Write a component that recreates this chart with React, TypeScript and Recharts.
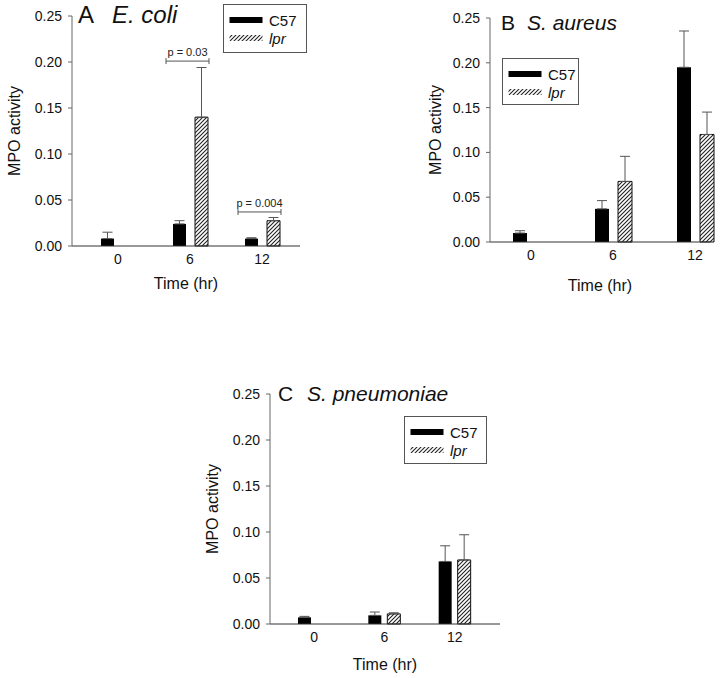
import { Bar, BarChart, ErrorBar, Legend, XAxis, YAxis } from "recharts";

const font = '"Liberation Sans", Arial, Helvetica, sans-serif';

const times = ["0", "6", "12"];
const yTicks = [0, 0.05, 0.1, 0.15, 0.2, 0.25];

// A  E. coli
const ecoliC57 = [0.008, 0.024, 0.008];
const ecoliC57Err = [0.007, 0.0035, 0.001];
const ecoliLpr = [null, 0.14, 0.0275];
const ecoliLprErr = [null, 0.054, 0.0035];
const ecoliSigLevel = [null, 0.201, 0.037];
const ecoliSigText = [null, "p = 0.03", "p = 0.004"];

// B  S. aureus
const aureusC57 = [0.01, 0.037, 0.195];
const aureusC57Err = [0.0026, 0.0092, 0.0405];
const aureusLpr = [null, 0.0676, 0.12];
const aureusLprErr = [null, 0.028, 0.025];

// C  S. pneumoniae
const pneumoC57 = [0.0072, 0.0094, 0.068];
const pneumoC57Err = [0.0011, 0.0036, 0.017];
const pneumoLpr = [null, 0.011, 0.0696];
const pneumoLprErr = [null, 0.0012, 0.0274];

function buildRows(c57: number[], c57Err: number[], lpr: (number | null)[], lprErr: (number | null)[]) {
  return times.map((t, i) => ({
    t,
    c57: c57[i],
    c57Err: [0, c57Err[i]],
    lpr: lpr[i],
    lprErr: lprErr[i] == null ? null : [0, lprErr[i]],
  }));
}

function Hatch({ id }: { id: string }) {
  return (
    <pattern id={id} patternUnits="userSpaceOnUse" width={4} height={4}>
      <rect width={4} height={4} fill="#fff" />
      <path d="M-1,1 l2,-2 M0,4 l4,-4 M3,5 l2,-2" stroke="#222" strokeWidth={1.1} />
    </pattern>
  );
}

function LegendBox({ id, w, h }: { id: string; w: number; h: number }) {
  return (
    <svg width={w} height={h} style={{ display: "block" }}>
      <defs>
        <Hatch id={id} />
      </defs>
      <rect x={0.5} y={0.5} width={w - 1} height={h - 1} fill="#fff" stroke="#555" />
      <rect x={6.5} y={13} width={33} height={6} fill="#000" />
      <rect x={6.5} y={31} width={33} height={6} fill={`url(#${id})`} />
      <text x={46} y={21.5} fontSize={15} fontFamily={font} fill="#111">
        C57
      </text>
      <text x={46} y={39.5} fontSize={15} fontFamily={font} fontStyle="italic" fill="#111">
        lpr
      </text>
    </svg>
  );
}

function sigLabel(lpr: (number | null)[], levels: (number | null)[], texts: (string | null)[], barSize: number, barGap: number) {
  return (props: any) => {
    const i = lpr.indexOf(props.value);
    if (i < 0) return null;
    const level = levels[i];
    const v = lpr[i];
    if (level == null || v == null) return null;
    const vb = props.viewBox || props;
    const base = vb.y + vb.height;
    const yb = base - (level / v) * vb.height;
    const x1 = vb.x - barGap - barSize - 7;
    const x2 = vb.x + vb.width + 1;
    return (
      <g key={`sig-${i}`} stroke="#555" strokeWidth={1}>
        <line x1={x1} x2={x2} y1={yb} y2={yb} />
        <line x1={x1} x2={x1} y1={yb - 3} y2={yb + 3} />
        <line x1={x2} x2={x2} y1={yb - 3} y2={yb + 3} />
        <text x={(x1 + x2) / 2} y={yb - 5} textAnchor="middle" fontSize={11} fontFamily={font} fill="#222" stroke="none">
          {texts[i]}
        </text>
      </g>
    );
  };
}

type PanelProps = {
  id: string;
  left: number;
  top: number;
  width: number;
  height: number;
  margin: { top: number; right: number; bottom: number; left: number };
  yAxisWidth: number;
  xAxisHeight: number;
  padding: { left: number; right: number };
  barSize: number;
  barGap: number;
  rows: any[];
  letter: string;
  name: string;
  titleX: number;
  titleY: number;
  titleSize: number;
  nameGap: number;
  legend: { x: number; y: number; w: number; h: number };
  yLabelOffset: number;
  xLabelOffset: number;
  sig?: any;
};

function Panel(p: PanelProps) {
  return (
    <div style={{ position: "absolute", left: p.left, top: p.top }}>
      <BarChart width={p.width} height={p.height} data={p.rows} margin={p.margin} barSize={p.barSize} barGap={p.barGap}>
        <defs>
          <Hatch id={p.id} />
        </defs>
        <XAxis
          dataKey="t"
          type="category"
          height={p.xAxisHeight}
          padding={p.padding}
          axisLine={{ stroke: "#333" }}
          tickLine={false}
          tickSize={4}
          tickMargin={4}
          tick={{ fontSize: 14, fill: "#111", fontFamily: font }}
          label={{ value: "Time (hr)", position: "insideBottom", offset: p.xLabelOffset, fontSize: 16, fill: "#111", fontFamily: font }}
        />
        <YAxis
          type="number"
          domain={[0, 0.25]}
          ticks={yTicks}
          interval={0}
          tickFormatter={(v: number) => v.toFixed(2)}
          width={p.yAxisWidth}
          axisLine={{ stroke: "#666" }}
          tickLine={{ stroke: "#666" }}
          tickSize={4}
          tickMargin={6}
          tick={{ fontSize: 14, fill: "#111", fontFamily: font }}
          label={{
            value: "MPO activity",
            angle: -90,
            position: "insideLeft",
            offset: p.yLabelOffset,
            fontSize: 16,
            fill: "#111",
            fontFamily: font,
            style: { textAnchor: "middle" },
          }}
        />
        <Legend
          layout="vertical"
          align="center"
          verticalAlign="middle"
          wrapperStyle={{ left: p.legend.x, top: p.legend.y, width: p.legend.w, height: p.legend.h }}
          content={() => <LegendBox id={`${p.id}-lg`} w={p.legend.w} h={p.legend.h} />}
        />
        <Bar dataKey="c57" fill="#000" isAnimationActive={false}>
          <ErrorBar dataKey="c57Err" direction="y" width={5} stroke="#555" strokeWidth={1} />
        </Bar>
        <Bar dataKey="lpr" fill={`url(#${p.id})`} stroke="#111" strokeWidth={1} isAnimationActive={false} label={p.sig || false}>
          <ErrorBar dataKey="lprErr" direction="y" width={5} stroke="#555" strokeWidth={1} />
        </Bar>
        <text x={p.titleX} y={p.titleY} fontSize={p.titleSize} fontFamily={font} fill="#111">
          {p.letter}
        </text>
        <text x={p.titleX + p.nameGap} y={p.titleY} fontSize={p.titleSize} fontFamily={font} fontStyle="italic" fill="#111">
          {p.name}
        </text>
      </BarChart>
    </div>
  );
}

export default function App() {
  return (
    <div style={{ position: "absolute", left: 0, top: 0, width: 722, height: 678, background: "#fff" }}>
      <Panel
        id="hatchA"
        left={0}
        top={0}
        width={310}
        height={300}
        margin={{ top: 16, right: 10, bottom: 0, left: 0 }}
        yAxisWidth={72}
        xAxisHeight={54}
        padding={{ left: 10, right: 2 }}
        barSize={13}
        barGap={9}
        rows={buildRows(ecoliC57, ecoliC57Err, ecoliLpr, ecoliLprErr)}
        letter="A"
        name="E. coli"
        titleX={78}
        titleY={23}
        titleSize={24}
        nameGap={34}
        legend={{ x: 223, y: 4, w: 84, h: 49 }}
        yLabelOffset={14}
        xLabelOffset={11}
        sig={sigLabel(ecoliLpr, ecoliSigLevel, ecoliSigText, 13, 9)}
      />
      <Panel
        id="hatchB"
        left={400}
        top={0}
        width={322}
        height={300}
        margin={{ top: 18, right: 12, bottom: 0, left: 0 }}
        yAxisWidth={90}
        xAxisHeight={58}
        padding={{ left: 0, right: -26 }}
        barSize={14}
        barGap={9}
        rows={buildRows(aureusC57, aureusC57Err, aureusLpr, aureusLprErr)}
        letter="B"
        name="S. aureus"
        titleX={101}
        titleY={30}
        titleSize={21}
        nameGap={26}
        legend={{ x: 102, y: 58, w: 77, h: 47 }}
        yLabelOffset={35}
        xLabelOffset={9}
      />
      <Panel
        id="hatchC"
        left={200}
        top={360}
        width={310}
        height={318}
        margin={{ top: 34, right: 10, bottom: 0, left: 0 }}
        yAxisWidth={70}
        xAxisHeight={54}
        padding={{ left: 9, right: 10 }}
        barSize={13}
        barGap={6}
        rows={buildRows(pneumoC57, pneumoC57Err, pneumoLpr, pneumoLprErr)}
        letter="C"
        name="S. pneumoniae"
        titleX={78}
        titleY={41}
        titleSize={21}
        nameGap={29}
        legend={{ x: 204, y: 56, w: 83, h: 48 }}
        yLabelOffset={12}
        xLabelOffset={8}
      />
    </div>
  );
}
